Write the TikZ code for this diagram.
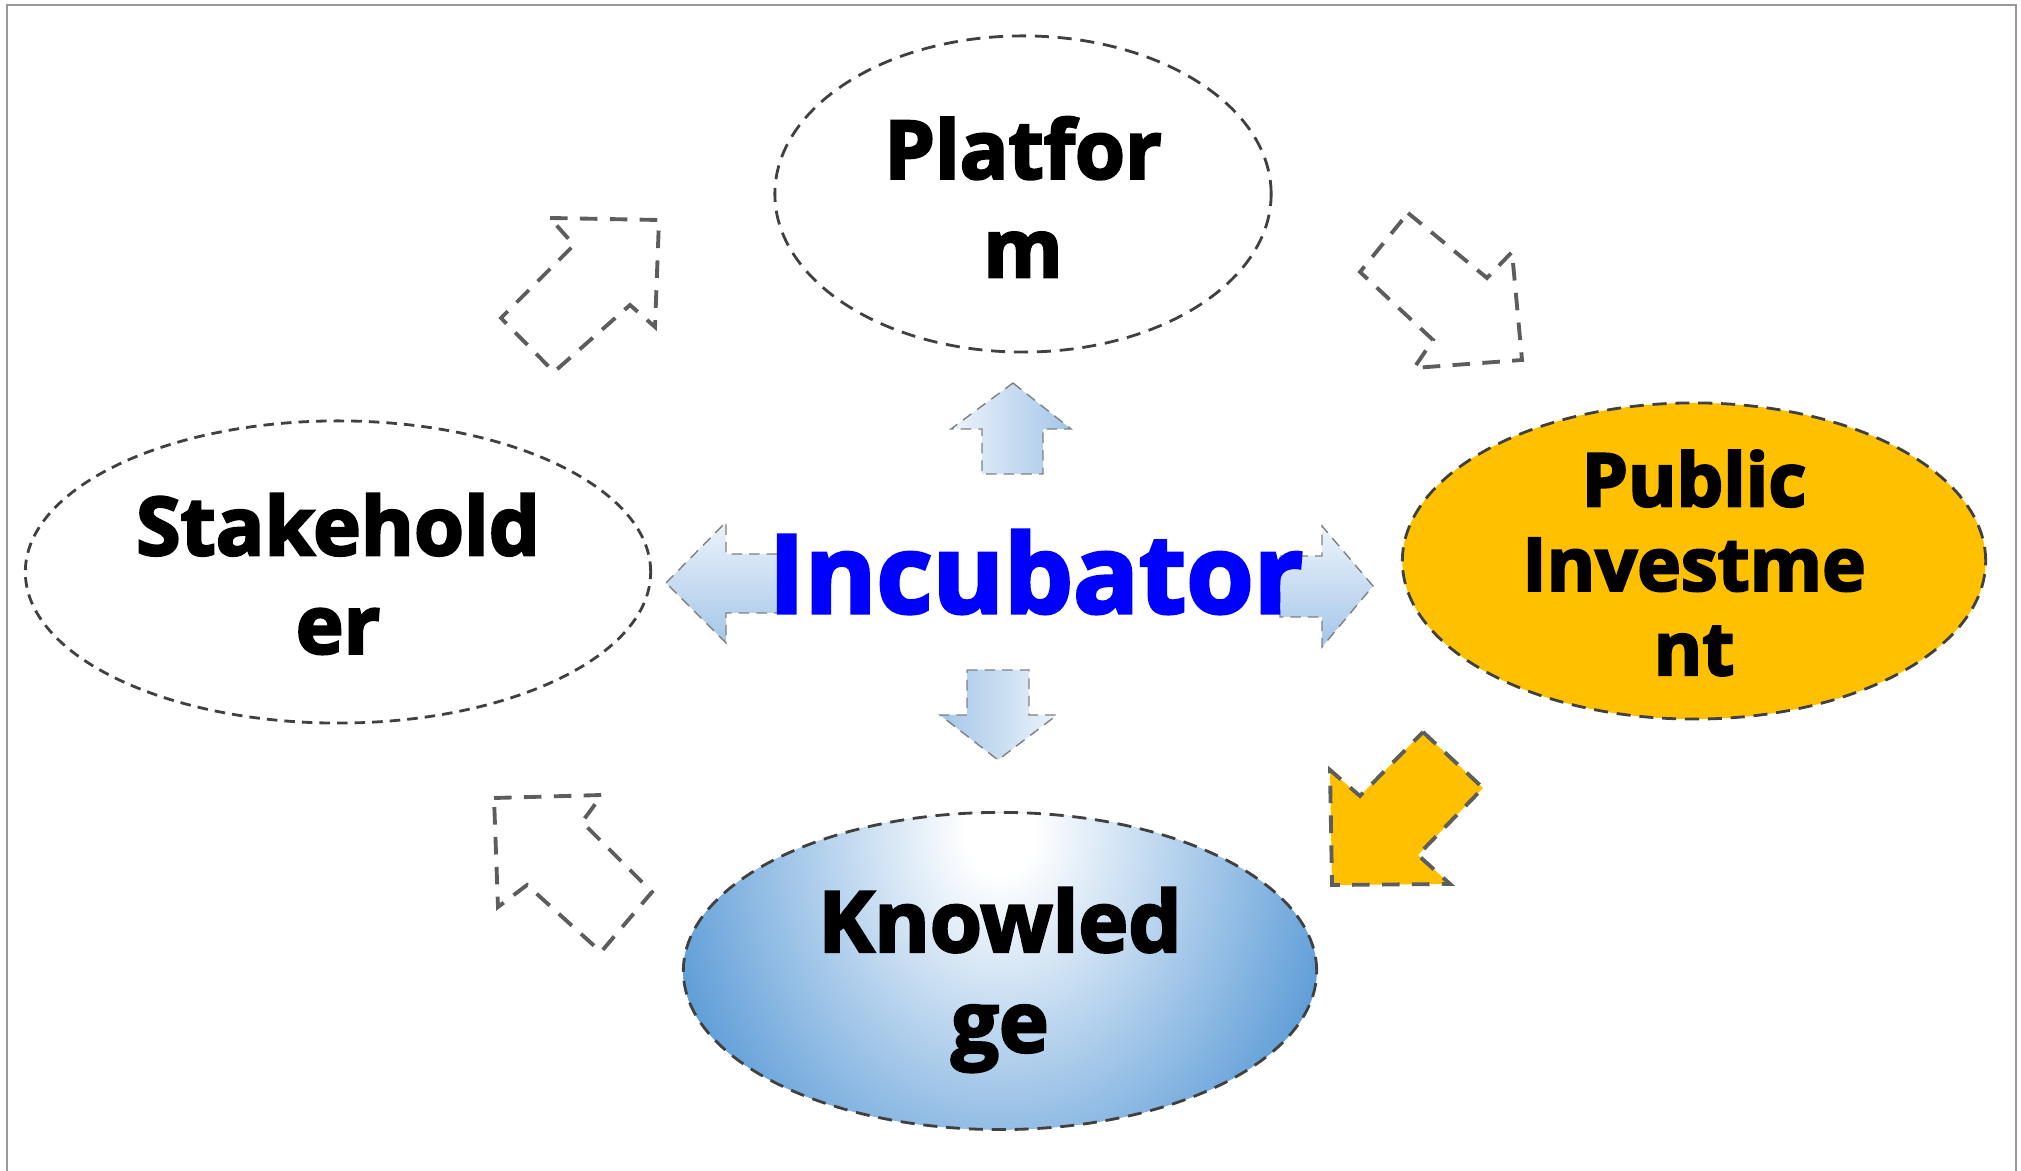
\documentclass[tikz,border=0pt]{standalone}
\usepackage{fontspec}
\setmainfont{Open Sans}[BoldFeatures={FakeBold=3}]
\usetikzlibrary{shapes.geometric}
\definecolor{IncBlue}{RGB}{0,0,255}
\definecolor{PubGold}{RGB}{255,192,0}
\definecolor{KnowBlue}{RGB}{96,158,216}
\definecolor{ArrowLight}{RGB}{236,243,251}
\definecolor{ArrowDark}{RGB}{164,198,232}
\definecolor{EdgeGray}{RGB}{64,64,64}
\pgfdeclareradialshading{knowshade}{\pgfpoint{0bp}{0bp}}{color(0bp)=(white); color(2.5bp)=(white); color(25bp)=(KnowBlue); color(50bp)=(KnowBlue)}

\begin{document}
\begin{tikzpicture}[x=0.01cm, y=-0.01cm,
    bubble/.style={ellipse, draw=EdgeGray, line width=0.8pt, dash pattern=on 4pt off 2.5pt, inner sep=0pt},
    word/.style={font=\bfseries\fontsize{23}{28}\selectfont, align=center},
    outline/.style={draw=EdgeGray!85, line width=1.1pt, dash pattern=on 5pt off 3.5pt},
    blockarrow/.style={draw=gray, line width=0.4pt, densely dashed}]
    \useasboundingbox (0,0) rectangle (2021,1171);
    % frame
    \draw[gray!80, line width=0.6pt] (7,1171) -- (7,5) -- (2016,5) -- (2016,1171);

    % outline arrows round the cycle
    \draw[outline] (550,218) -- (659,220) -- (655,327) -- (630,305) -- (554,372) -- (501,318) -- (574,245) -- cycle;
    \draw[outline] (1408,213) -- (1487,278) -- (1512,252) -- (1522,360) -- (1414,368) -- (1433,340) -- (1360,272) -- cycle;
    \draw[outline] (494,798) -- (602,795) -- (582,822) -- (652,892) -- (601,952) -- (527,885) -- (498,907) -- cycle;
    \draw[outline, fill=PubGold] (1423,732) -- (1483,788) -- (1418,855) -- (1450,884) -- (1332,885) -- (1330,770) -- (1360,796) -- cycle;

    % arrows out of the incubator
    \draw[blockarrow, top color=ArrowLight, bottom color=ArrowDark] (666,583) -- (726,522) -- (726,554) -- (790,554) -- (790,613) -- (726,613) -- (726,643) -- cycle;
    \draw[blockarrow, top color=ArrowLight, bottom color=ArrowDark] (1280,556) -- (1322,556) -- (1322,526) -- (1373,586) -- (1322,647) -- (1322,617) -- (1280,617) -- cycle;
    \draw[blockarrow, left color=ArrowLight, right color=ArrowDark] (1013,383) -- (1071,429) -- (1043,429) -- (1043,474) -- (982,474) -- (982,429) -- (951,429) -- cycle;
    \draw[blockarrow, left color=ArrowDark, right color=ArrowLight] (967,670) -- (1029,670) -- (1029,715) -- (1057,715) -- (998,760) -- (940,715) -- (967,715) -- cycle;

    % ellipses
    \node[bubble, minimum width=4.96cm, minimum height=3.16cm] (platform) at (1023,194) {};
    \node[bubble, minimum width=6.25cm, minimum height=3.02cm, dash pattern=on 3pt off 2pt] (stakeholder) at (338,572) {};
    \node[bubble, fill=PubGold, minimum width=5.83cm, minimum height=3.16cm] (public) at (1694,561) {};
    \node[bubble, fill=KnowBlue, minimum width=6.33cm, minimum height=3.17cm,
        path picture={\shade[shading=knowshade] ([yshift=-0.2cm]path picture bounding box.north) ellipse [x radius=3.4cm, y radius=4.2cm];}] (knowledge) at (1000,971) {};

    % labels
    \node[word] (platformtext) at (1023,197) {Platfor\\m};
    \node[word] (stakeholdertext) at (338,574) {Stakehold\\er};
    \node[word, font=\bfseries\fontsize{21}{24}\selectfont] (publictext) at (1694,563) {Public\\Investme\\nt};
    \node[word, font=\bfseries\fontsize{24}{28.5}\selectfont] (knowledgetext) at (1000,980) {Knowled\\ge};
    \node[font=\bfseries\fontsize{31}{36}\selectfont, text=IncBlue] (incubator) at (1036,572) {Incubator};
\end{tikzpicture}
\end{document}
